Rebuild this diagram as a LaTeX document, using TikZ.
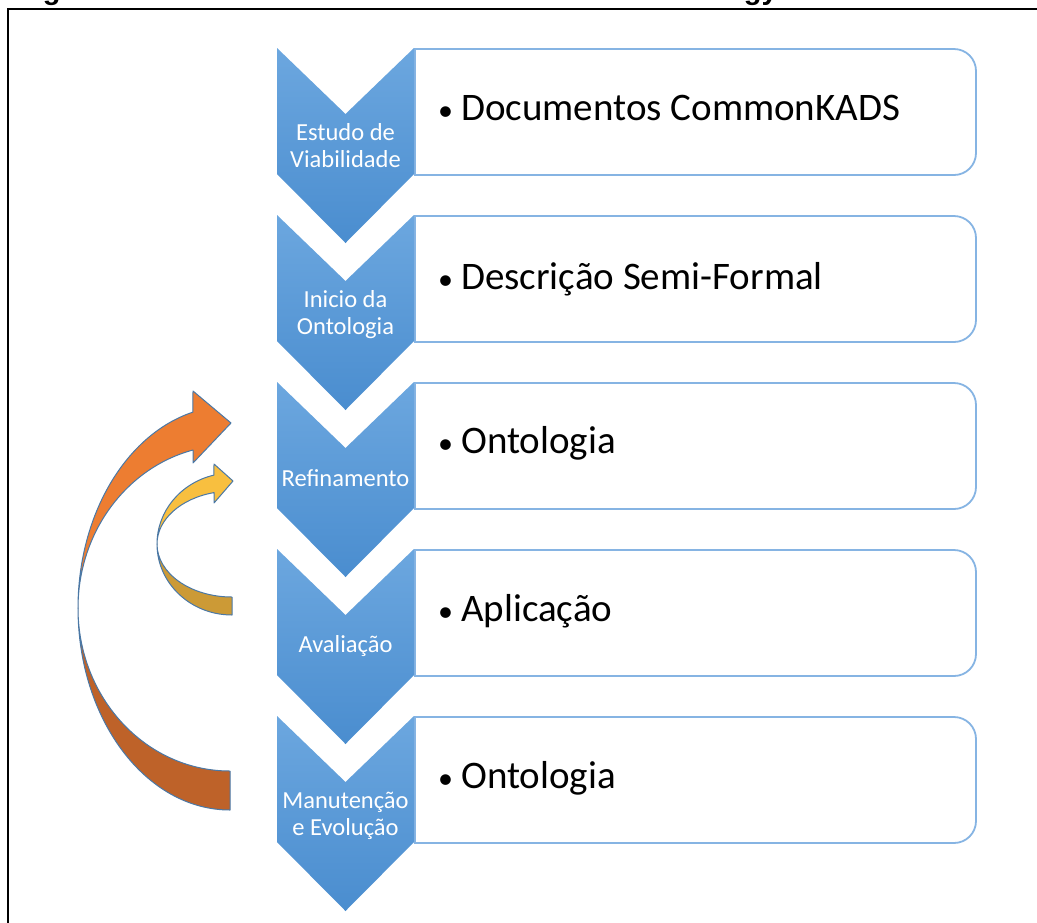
\documentclass[tikz,border=0pt]{standalone}
\usepackage{fontspec}
\setmainfont{Carlito}
\newfontfamily\capfont{Liberation Sans}

\definecolor{chevtop}{HTML}{6CA7DF}
\definecolor{chevbot}{HTML}{4A8DCF}
\definecolor{panelline}{HTML}{86B4E3}
\definecolor{orangefront}{HTML}{ED7D31}
\definecolor{orangeback}{HTML}{BE6229}
\definecolor{yellowfront}{HTML}{F8BF3F}
\definecolor{yellowback}{HTML}{CC9A36}
\definecolor{arrowedge}{HTML}{4A78A6}

\tikzset{
  chevfill/.style={top color=chevtop, bottom color=chevbot, draw=none},
  panel/.style={draw=panelline, line width=1.8pt, fill=white},
  steplabel/.style={anchor=base, inner sep=0pt, text=white,
    font=\fontsize{24.5}{28}\selectfont},
  itemtext/.style={anchor=base west, inner sep=0pt, text=black,
    font=\fontsize{39}{44}\selectfont},
  band/.style={draw=arrowedge, line width=1pt, line join=round},
}

% bullet mark in front of each item
\newcommand\itembullet{\makebox[23pt][l]{\fontsize{30}{30}\selectfont•}}
% one chevron of the vertical list, top edge at y = #1
\newcommand\chevronat[1]{%
  \path[chevfill] (277,#1) -- (345.5,#1+66) -- (414,#1) -- (414,#1+126)
    -- (345.5,#1+195) -- (277,#1+126) -- cycle;}
% text panel, square on the left and rounded on the right
\newcommand\panelat[1]{%
  \draw[panel] (415,#1+1) -- (954,#1+1) arc[start angle=-90, end angle=0, radius=22]
    -- (976,#1+105) arc[start angle=0, end angle=90, radius=22]
    -- (415,#1+127) -- cycle;}

\begin{document}
\begin{tikzpicture}[x=1pt, y=-1pt]
\useasboundingbox (0,0) rectangle (1037,922);
\clip (0,0) rectangle (1037,922);

% caption (almost entirely above the page) and frame
\node[anchor=base west, inner sep=0pt, font=\capfont\bfseries\fontsize{29}{34}\selectfont]
  (caption) at (17,-0.5) {Figura 4 – Processo de desenvolvimento Methontology};
\draw[line width=2pt] (1045,9) -- (8,9) -- (8,930);

% panels
\panelat{48}
\panelat{215}
\panelat{382}
\panelat{549}
\panelat{716}

% chevrons
\chevronat{48}
\chevronat{215}
\chevronat{382}
\chevronat{549}
\chevronat{716}

% chevron labels
\node[steplabel] (s1a) at (345.5,140) {Estudo de};
\node[steplabel] (s1b) at (345.5,167) {Viabilidade};
\node[steplabel] (s2a) at (345.5,307) {Inicio da};
\node[steplabel] (s2b) at (345.5,334) {Ontologia};
\node[steplabel] (s3)  at (345.5,486) {Refinamento};
\node[steplabel] (s4)  at (345.5,652) {Avaliação};
\node[steplabel] (s5a) at (345.5,808) {Manutenção};
\node[steplabel] (s5b) at (345.5,835) {e Evolução};

% panel items
\node[itemtext] (i1) at (438,120) {\itembullet Documentos CommonKADS};
\node[itemtext] (i2) at (438,289) {\itembullet Descrição Semi-Formal};
\node[itemtext] (i3) at (438,453) {\itembullet Ontologia};
\node[itemtext] (i4) at (438,621) {\itembullet Aplicação};
\node[itemtext] (i5) at (438,788) {\itembullet Ontologia};

% large return arrow: back of the band, then front with head
\path[band, fill=orangeback] (78,608) arc[start angle=180, end angle=90, x radius=152, y radius=202]
  -- (230,771) arc[start angle=90, end angle=180, x radius=152, y radius=163] -- cycle;
\path[band, fill=orangefront] (78,608) arc[start angle=180, end angle=255.9, x radius=152, y radius=202]
  -- (193,391) -- (231,423) -- (193,463) -- (193,450)
  arc[start angle=255.9, end angle=180, x radius=152, y radius=163] -- cycle;

% small return arrow
\path[band, fill=yellowback] (157,544) arc[start angle=180, end angle=90, x radius=75, y radius=71]
  -- (232,597) arc[start angle=90, end angle=180, x radius=75, y radius=53] -- cycle;
\path[band, fill=yellowfront] (157,544) arc[start angle=180, end angle=256.1, x radius=75, y radius=71]
  -- (214,464) -- (233,481) -- (214,503) -- (214,492.6)
  arc[start angle=256.1, end angle=180, x radius=75, y radius=53] -- cycle;
\end{tikzpicture}
\end{document}
